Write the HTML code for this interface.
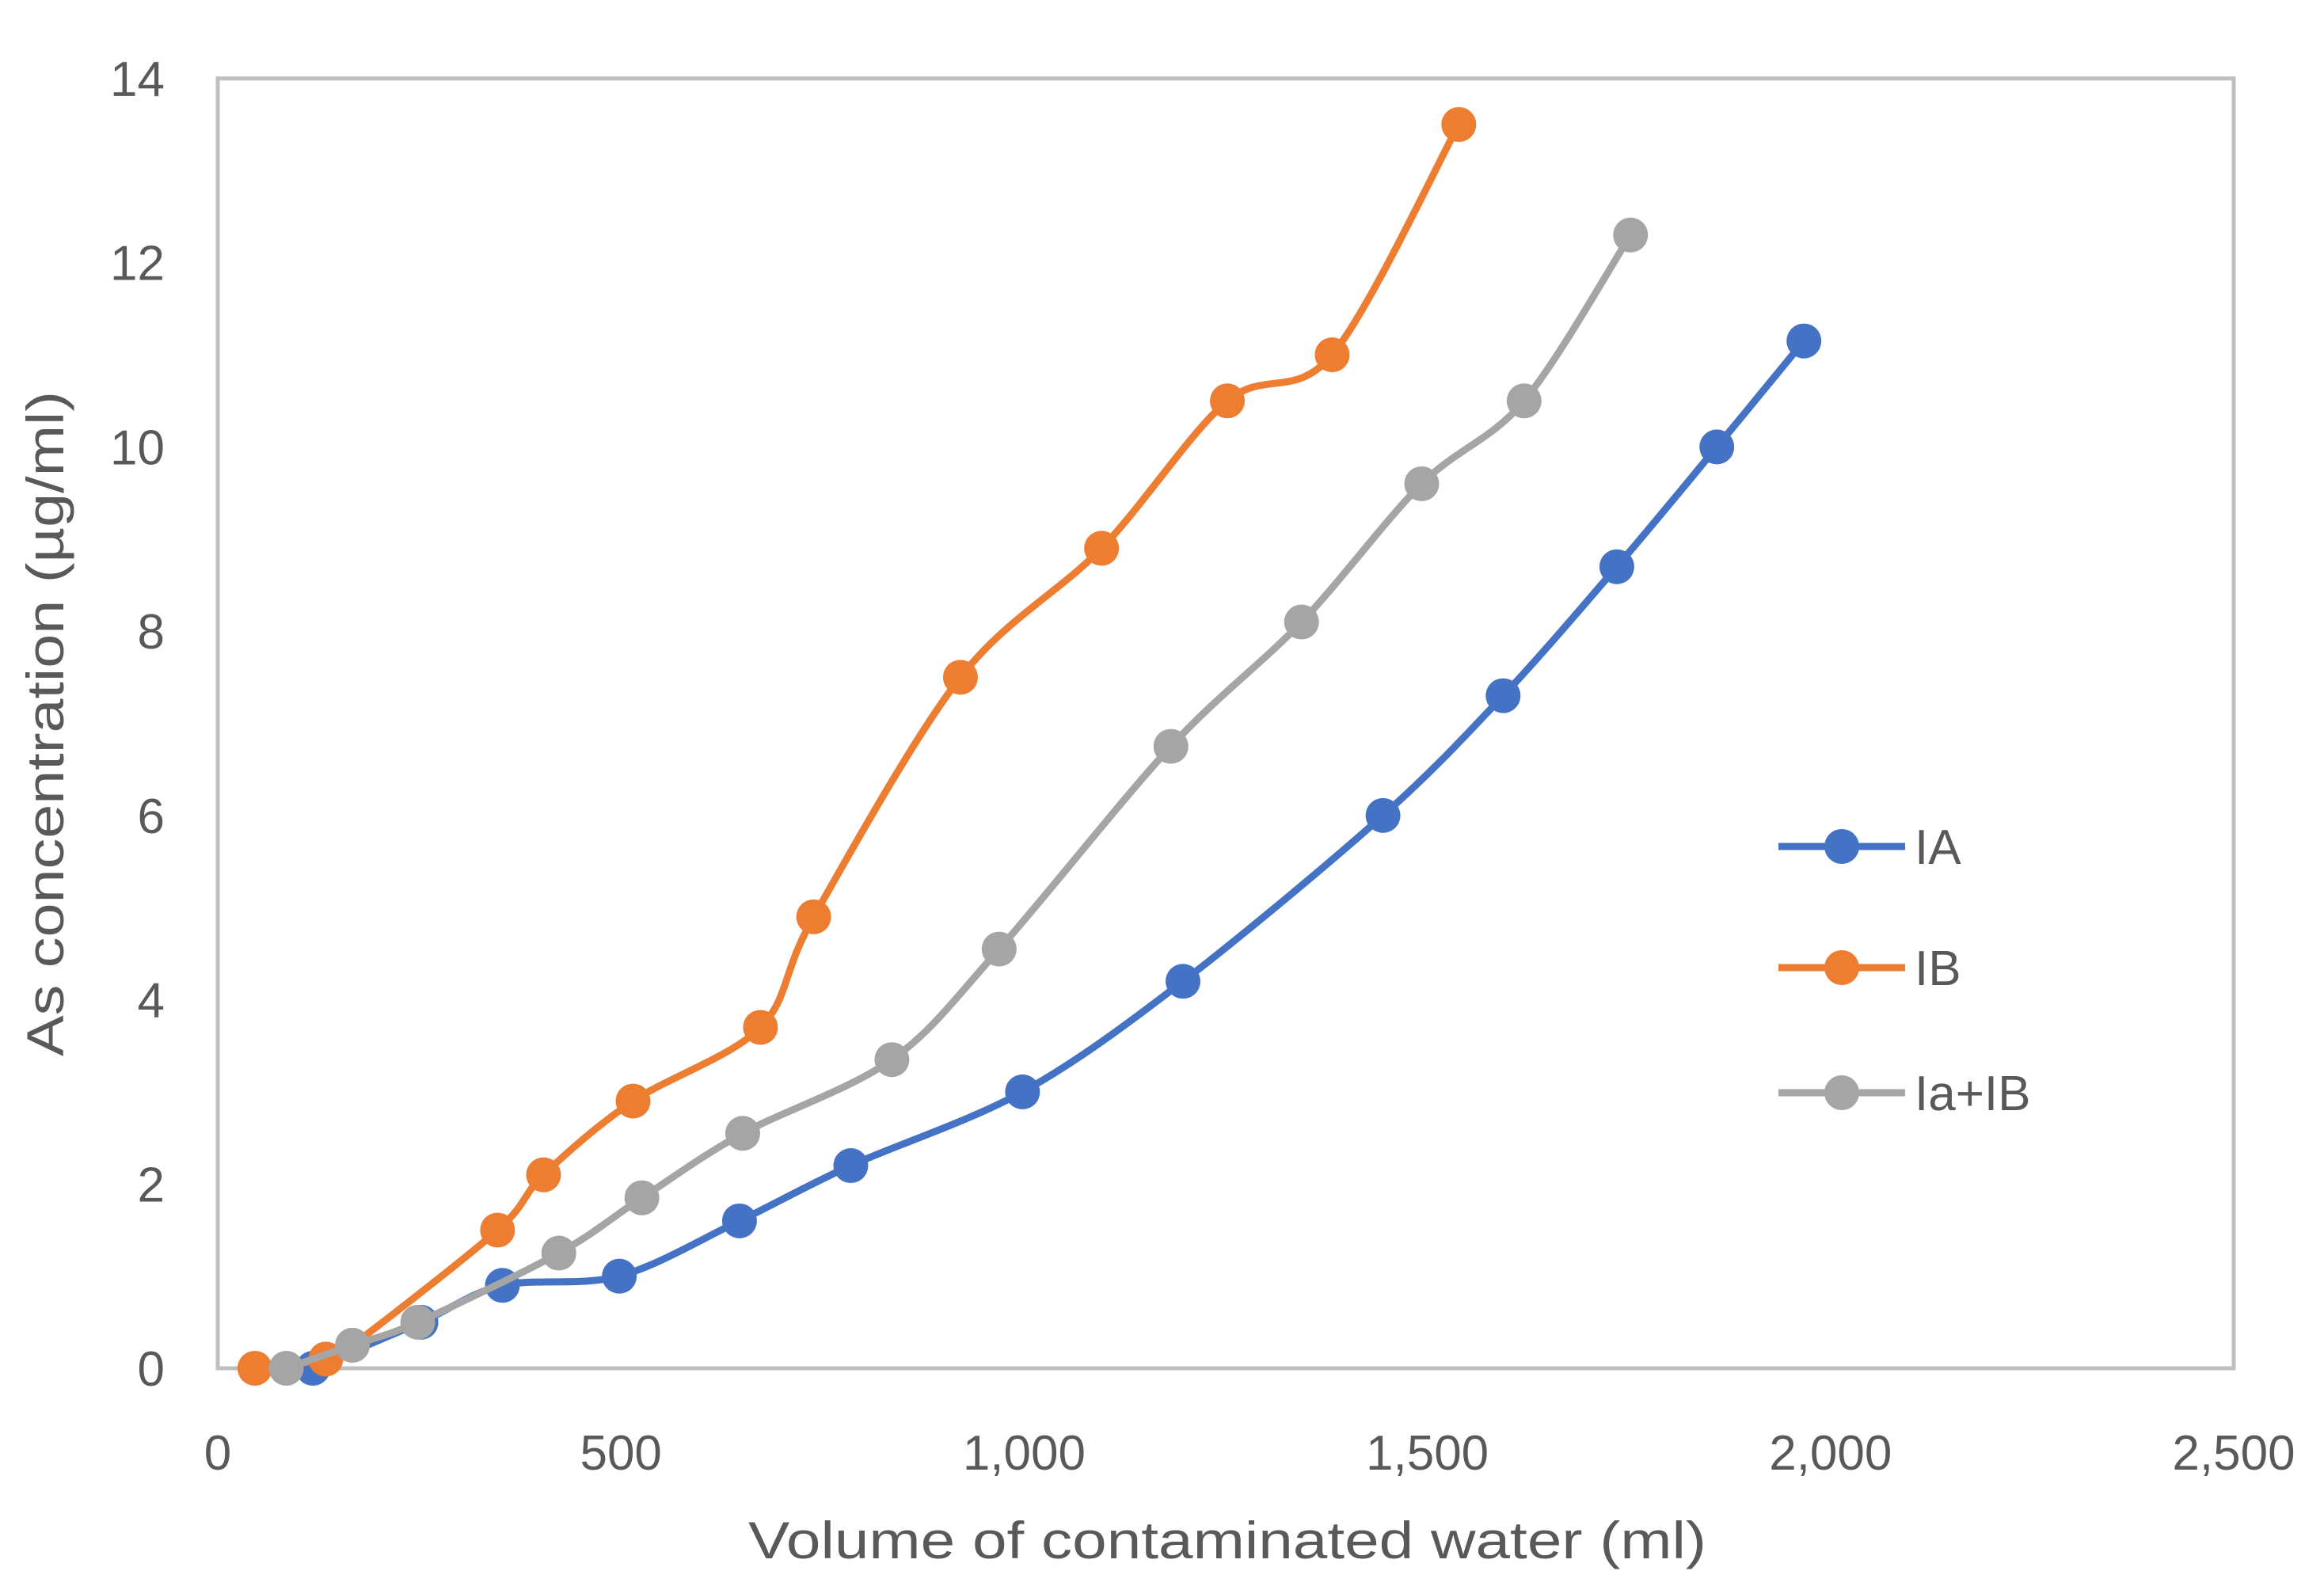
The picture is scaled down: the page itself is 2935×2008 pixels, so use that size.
<!DOCTYPE html>
<html><head><meta charset="utf-8"><style>
html,body{margin:0;padding:0;background:#fff;}
svg{display:block;font-family:"Liberation Sans",sans-serif;}
</style></head><body>
<svg id="chart" width="2935" height="2008" viewBox="0 0 2935 2008" xmlns="http://www.w3.org/2000/svg">
<rect x="0" y="0" width="2935" height="2008" fill="#fff"/>
<g id="grid"></g>
<g id="series"></g>
<g id="legend"></g>
<text x="1550" y="1968" text-anchor="middle" font-size="66" fill="#595959" textLength="1210" lengthAdjust="spacingAndGlyphs">Volume of contaminated water (ml)</text>
<text transform="translate(80,914) rotate(-90)" text-anchor="middle" font-size="66" fill="#595959" textLength="840" lengthAdjust="spacingAndGlyphs">As concentration (µg/ml)</text>
</svg>
<script>
const xTicks = [0, 500, 1000, 1500, 2000, 2500];
const xTickLabels = ["0", "500", "1,000", "1,500", "2,000", "2,500"];
const yTicks = [0, 2, 4, 6, 8, 10, 12, 14];
const seriesNames = ["IA", "IB", "Ia+IB"];
const iaX = [118, 252, 353, 498, 647, 785, 998, 1197, 1445, 1594, 1735, 1859, 1967];
const iaY = [0, 0.5, 0.9, 1.0, 1.6, 2.2, 3.0, 4.2, 6.0, 7.3, 8.7, 10.0, 11.15];
const ibX = [46, 134, 167, 347, 404, 515, 673, 739, 921, 1096, 1252, 1382, 1539];
const ibY = [0, 0.1, 0.25, 1.5, 2.1, 2.9, 3.7, 4.9, 7.5, 8.9, 10.5, 11.0, 13.5];
const iabX = [85, 167, 248, 423, 526, 651, 836, 969, 1182, 1344, 1493, 1620, 1752];
const iabY = [0, 0.25, 0.5, 1.25, 1.85, 2.55, 3.35, 4.55, 6.75, 8.1, 9.6, 10.5, 12.3];

const NS = "http://www.w3.org/2000/svg";
const L = 275, R = 2821, T = 99, B = 1728;
const xMax = 2500, yMax = 14;
function sx(v){ return L + v / xMax * (R - L); }
function sy(v){ return B - v / yMax * (B - T); }
function mk(tag, attrs, parent){ const e = document.createElementNS(NS, tag); for (const k in attrs) e.setAttribute(k, attrs[k]); parent.appendChild(e); return e; }

const grid = document.getElementById('grid');
const frame = mk('rect', {x:L, y:T, width:R-L, height:B-T, fill:'none', stroke:'#BFBFBF', 'stroke-width':5}, grid);


xTicks.forEach((v, i) => {
  const t = mk('text', {x:sx(v), y:1856, 'text-anchor':'middle', 'font-size':62, fill:'#595959'}, grid);
  t.textContent = xTickLabels[i];
  
  
});
yTicks.forEach(v => {
  const t = mk('text', {x:208, y:sy(v)+22, 'text-anchor':'end', 'font-size':62, fill:'#595959'}, grid);
  t.textContent = String(v);
  
  
});

function smoothPath(pts){
  let d = 'M' + pts[0][0] + ',' + pts[0][1];
  const k = 0.16;
  for (let i = 0; i < pts.length - 1; i++){
    const p0 = pts[i-1] || pts[i], p1 = pts[i], p2 = pts[i+1], p3 = pts[i+2] || pts[i+1];
    const c1x = p1[0] + (p2[0]-p0[0])*k, c1y = p1[1] + (p2[1]-p0[1])*k;
    const c2x = p2[0] - (p3[0]-p1[0])*k, c2y = p2[1] - (p3[1]-p1[1])*k;
    d += ' C' + c1x + ',' + c1y + ' ' + c2x + ',' + c2y + ' ' + p2[0] + ',' + p2[1];
  }
  return d;
}
const series = [
  {xs: iaX, ys: iaY, color: '#4472C4', key: 'ia'},
  {xs: ibX, ys: ibY, color: '#ED7D31', key: 'ib'},
  {xs: iabX, ys: iabY, color: '#A5A5A5', key: 'ia-ib'}
];
const sg = document.getElementById('series');
series.forEach(s => {
  const g = mk('g', {}, sg);
  
  
  const pts = s.xs.map((x, i) => [sx(x), sy(s.ys[i])]);
  const p = mk('path', {d: smoothPath(pts), fill:'none', stroke:s.color, 'stroke-width':9, 'stroke-linejoin':'round', 'stroke-linecap':'round'}, g);
  
  
  pts.forEach(pt => {
    const c = mk('circle', {cx:pt[0], cy:pt[1], r:22, fill:s.color}, g);
    
    
  });
});
const lg = document.getElementById('legend');
const legY = [1069, 1222, 1380];
series.forEach((s, i) => {
  const g = mk('g', {}, lg);
  
  
  mk('line', {x1:2246, x2:2406, y1:legY[i], y2:legY[i], stroke:s.color, 'stroke-width':9}, g);
  mk('circle', {cx:2326, cy:legY[i], r:22, fill:s.color}, g);
  const t = mk('text', {x:2418, y:legY[i]+22, 'font-size':62, fill:'#595959'}, g);
  t.textContent = seriesNames[i];
});
</script>
</body></html>
